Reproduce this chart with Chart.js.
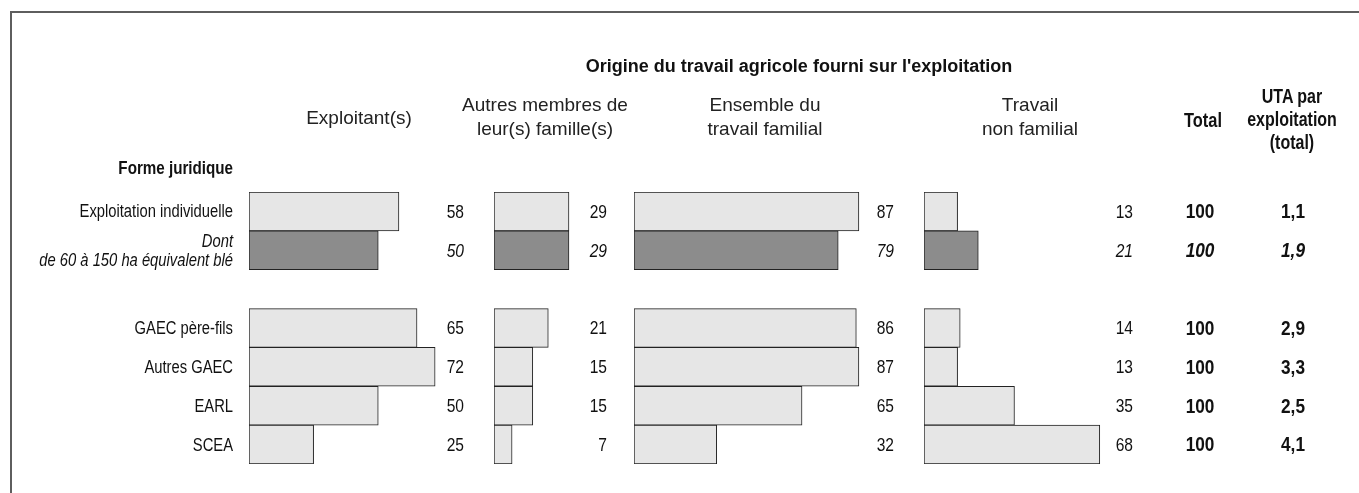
<!DOCTYPE html>
<html lang="fr">
<head>
<meta charset="utf-8">
<script src="https://cdn.jsdelivr.net/npm/chart.js@4.4.1/dist/chart.umd.min.js"></script>
<style>
  body { margin: 0; background: #fff; }
  #page { position: relative; width: 1359px; height: 493px; overflow: hidden; color: #111;
          font-family: 'Liberation Sans', Arial, sans-serif; }
  #frame { position: absolute; left: 10px; top: 11px; width: 1400px; height: 600px;
           border-left: 2px solid #5e5e5e; border-top: 2px solid #5e5e5e; }
  canvas { position: absolute; left: 0; top: 0; }
  .t { position: absolute; white-space: nowrap; line-height: 1; }
  .head { font-size: 19px; color: #222; }
  .bold { font-weight: bold; }
</style>
</head>
<body>
<div id="page">
  <div id="frame"></div>
  <canvas id="c1" width="1359" height="493"></canvas>
  <canvas id="c2" width="1359" height="493"></canvas>
  <canvas id="c3" width="1359" height="493"></canvas>
  <canvas id="c4" width="1359" height="493"></canvas>
</div>
<script>
// data (percent of farm labour, by legal form)
const rowLabels = ['Exploitation individuelle', ['Dont', 'de 60 à 150 ha équivalent blé'], '',
                   'GAEC père-fils', 'Autres GAEC', 'EARL', 'SCEA'];
const exploitants = [58, 50, null, 65, 72, 50, 25];
const autresMembres = [29, 29, null, 21, 15, 15, 7];
const ensembleFamilial = [87, 79, null, 86, 87, 65, 32];
const nonFamilial = [13, 21, null, 14, 13, 35, 68];
const totals = ['100', '100', '', '100', '100', '100', '100'];
const utaParExploitation = ['1,1', '1,9', '', '2,9', '3,3', '2,5', '4,1'];

const W = 1359, H = 493;
const PX = 2.585;           // pixels per percentage point, same for every column
const TOP = 192, BOTTOM = 464;
const NARROW = 0.82;        // no condensed face installed: squeeze Liberation Sans
const sans = "'Liberation Sans', Arial, sans-serif";
const lightFill = '#e6e6e6';
const darkFill = '#8c8c8c';
const edge = '#222';

// text placed with the center (or right edge) at x, vertical center at y
function put(text, x, y, cls, align, size, squeeze) {
  const d = document.createElement('div');
  d.className = 't ' + (cls || '');
  d.textContent = text;
  d.style.left = x + 'px';
  d.style.top = y + 'px';
  if (size) d.style.fontSize = size + 'px';
  const sx = squeeze ? ' scaleX(' + NARROW + ')' : '';
  if (align === 'right') {
    d.style.transformOrigin = 'right center';
    d.style.transform = 'translate(-100%, -50%)' + sx;
  } else {
    d.style.transform = 'translate(-50%, -50%)' + sx;
  }
  document.getElementById('page').appendChild(d);
}

put("Origine du travail agricole fourni sur l'exploitation", 799, 66, 'bold', 'center', 18);
put('Exploitant(s)', 359, 117, 'head');
put('Autres membres de', 545, 104, 'head');
put('leur(s) famille(s)', 545, 128, 'head');
put('Ensemble du', 765, 104, 'head');
put('travail familial', 765, 128, 'head');
put('Travail', 1030, 104, 'head');
put('non familial', 1030, 128, 'head');
put('Total', 1203, 120, 'bold', 'center', 20, true);
put('UTA par', 1292, 97, 'bold', 'center', 19.5, true);
put('exploitation', 1292, 120, 'bold', 'center', 19.5, true);
put('(total)', 1292, 143, 'bold', 'center', 19.5, true);
put('Forme juridique', 233, 168, 'bold', 'right', 18.5, true);

function narrowText(ctx, text, x, y, align) {
  ctx.save();
  ctx.translate(x, y);
  ctx.scale(NARROW, 1);
  ctx.textAlign = align;
  ctx.fillText(text, 0, 0);
  ctx.restore();
}

// draws row labels and value columns at fixed x positions, rows from the y scale
const valueColumns = {
  id: 'valueColumns',
  afterDatasetsDraw(chart, args, opts) {
    const ctx = chart.ctx;
    const y = chart.scales.y;
    ctx.save();
    ctx.fillStyle = '#111';
    ctx.textBaseline = 'middle';
    if (opts.labelsRight) {
      chart.data.labels.forEach((lab, i) => {
        ctx.font = (i === 1 ? 'italic ' : '') + '18px ' + sans;
        const lines = Array.isArray(lab) ? lab : [lab];
        const yc = y.getPixelForValue(i) + 1;
        lines.forEach((s, k) => {
          narrowText(ctx, s, opts.labelsRight, yc + (k - (lines.length - 1) / 2) * 19, 'right');
        });
      });
    }
    opts.columns.forEach(col => {
      col.values.forEach((v, i) => {
        if (v === null || v === '') return;
        ctx.font = (i === 1 ? 'italic ' : '') + (col.bold ? 'bold ' : '') + col.size + 'px ' + sans;
        narrowText(ctx, String(v), col.x, y.getPixelForValue(i) + 1, col.align);
      });
    });
    ctx.restore();
  }
};

function makeChart(id, values, barLeft, numRight, extra, labelsRight) {
  const columns = [{ values: values, x: numRight, align: 'right', size: 19 }].concat(extra || []);
  return new Chart(document.getElementById(id), {
    type: 'bar',
    data: {
      labels: rowLabels,
      datasets: [{
        data: values,
        backgroundColor: values.map((v, i) => i === 1 ? darkFill : lightFill),
        borderColor: edge,
        borderWidth: 1,
        borderSkipped: false,
        barPercentage: 1,
        categoryPercentage: 1
      }]
    },
    options: {
      indexAxis: 'y',
      responsive: false,
      animation: false,
      events: [],
      layout: {
        padding: { left: barLeft, right: W - barLeft - 100 * PX, top: TOP, bottom: H - BOTTOM }
      },
      plugins: {
        legend: { display: false },
        tooltip: { enabled: false },
        valueColumns: { columns: columns, labelsRight: labelsRight }
      },
      scales: {
        x: { display: false, min: 0, max: 100 },
        y: { display: false }
      }
    },
    plugins: [valueColumns]
  });
}

makeChart('c1', exploitants, 249, 464, null, 233);
makeChart('c2', autresMembres, 494, 607);
makeChart('c3', ensembleFamilial, 634, 894);
makeChart('c4', nonFamilial, 924, 1133, [
  { values: totals, x: 1200, align: 'center', size: 21, bold: true },
  { values: utaParExploitation, x: 1293, align: 'center', size: 21, bold: true }
]);
</script>
</body>
</html>
